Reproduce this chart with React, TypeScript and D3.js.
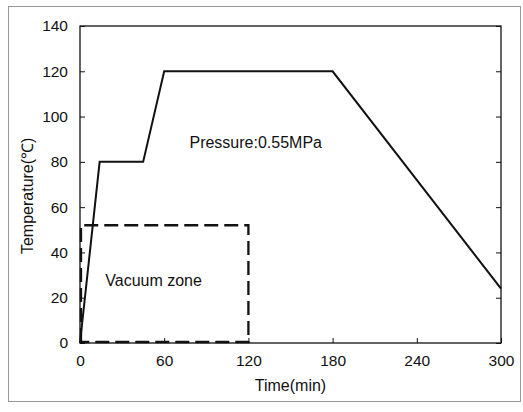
import * as d3 from 'd3';
import React, { useEffect, useRef } from 'react';

// cure profile: time (min) vs temperature (°C)
const profileTime = [0, 14, 45, 60, 180, 300];
const profileTemp = [0, 80, 80, 120, 120, 24];

// vacuum zone box
const vacuumTime = [0, 120];
const vacuumTemp = [0, 52];

const xTicks = [0, 60, 120, 180, 240, 300];
const yTicks = [0, 20, 40, 60, 80, 100, 120, 140];

const W = 523;
const H = 412;
const margin = { top: 26, right: 22, bottom: 69, left: 80 };

const App = () => {
  const svgRef = useRef<SVGSVGElement>(null);

  useEffect(() => {
    const svg = d3.select(svgRef.current);
    svg.selectAll('*').remove();

    const font = 'Arial, "Liberation Sans", sans-serif';
    const x = d3.scaleLinear().domain([0, 300]).range([margin.left, W - margin.right]);
    const y = d3.scaleLinear().domain([0, 140]).range([H - margin.bottom, margin.top]);

    // scanned page frame
    svg
      .append('rect')
      .attr('x', 8.5)
      .attr('y', 6.5)
      .attr('width', 512)
      .attr('height', 395)
      .attr('fill', 'none')
      .attr('stroke', '#999')
      .attr('stroke-width', 1);

    // plot box
    svg
      .append('rect')
      .attr('x', x(0))
      .attr('y', y(140))
      .attr('width', x(300) - x(0))
      .attr('height', y(0) - y(140))
      .attr('fill', 'none')
      .attr('stroke', '#111')
      .attr('stroke-width', 1.3);

    const xAxis = d3.axisBottom(x).tickValues(xTicks).tickSize(-5).tickPadding(12);
    const gx = svg
      .append('g')
      .attr('transform', `translate(0,${y(0)})`)
      .call(xAxis);
    gx.select('.domain').remove();
    gx.selectAll('line').attr('stroke', '#111');
    gx.selectAll('text').attr('font-size', 15.5).attr('font-family', font).attr('fill', '#111');

    const yAxis = d3.axisLeft(y).tickValues(yTicks).tickSize(-5).tickPadding(12);
    const gy = svg
      .append('g')
      .attr('transform', `translate(${x(0)},0)`)
      .call(yAxis);
    gy.select('.domain').remove();
    gy.selectAll('line').attr('stroke', '#111');
    gy.selectAll('text').attr('font-size', 15.5).attr('font-family', font).attr('fill', '#111');

    // right-side ticks
    const gr = svg
      .append('g')
      .attr('transform', `translate(${x(300)},0)`)
      .call(d3.axisRight(y).tickValues(yTicks).tickSize(-5).tickFormat(() => ''));
    gr.select('.domain').remove();
    gr.selectAll('line').attr('stroke', '#111');

    // vacuum zone
    const vx0 = x(vacuumTime[0]);
    const vx1 = x(vacuumTime[1]);
    const vy0 = y(vacuumTemp[0]);
    const vy1 = y(vacuumTemp[1]);
    svg
      .append('path')
      .attr('d', `M${vx0 + 1},${vy0 - 1}V${vy1}H${vx1}V${vy0 - 1}H${vx0 + 1}`)
      .attr('fill', 'none')
      .attr('stroke', '#111')
      .attr('stroke-width', 2.3)
      .attr('stroke-dasharray', '14,6');

    const pts = profileTime.map((t, i) => [t, profileTemp[i]] as [number, number]);
    const line = d3
      .line<[number, number]>()
      .x((d) => x(d[0]))
      .y((d) => y(d[1]));
    svg
      .append('path')
      .attr('d', line(pts))
      .attr('fill', 'none')
      .attr('stroke', '#111')
      .attr('stroke-width', 2);

    svg
      .append('text')
      .attr('x', x(78))
      .attr('y', y(86))
      .attr('font-size', 16)
      .attr('font-family', font)
      .attr('fill', '#111')
      .text('Pressure:0.55MPa');

    svg
      .append('text')
      .attr('x', x(18))
      .attr('y', y(25))
      .attr('font-size', 16)
      .attr('font-family', font)
      .attr('fill', '#111')
      .text('Vacuum zone');

    svg
      .append('text')
      .attr('x', (x(0) + x(300)) / 2)
      .attr('y', 391)
      .attr('text-anchor', 'middle')
      .attr('font-size', 16)
      .attr('font-family', font)
      .attr('fill', '#111')
      .text('Time(min)');

    svg
      .append('text')
      .attr('transform', `translate(33,${y(65)}) rotate(-90)`)
      .attr('text-anchor', 'middle')
      .attr('font-size', 16)
      .attr('font-family', font)
      .attr('fill', '#111')
      .text('Temperature(℃)');
  }, []);

  return (
    <svg
      ref={svgRef}
      width={W}
      height={H}
      style={{ position: 'absolute', left: 0, top: 0, background: '#fff' }}
    />
  );
};

export default App;
